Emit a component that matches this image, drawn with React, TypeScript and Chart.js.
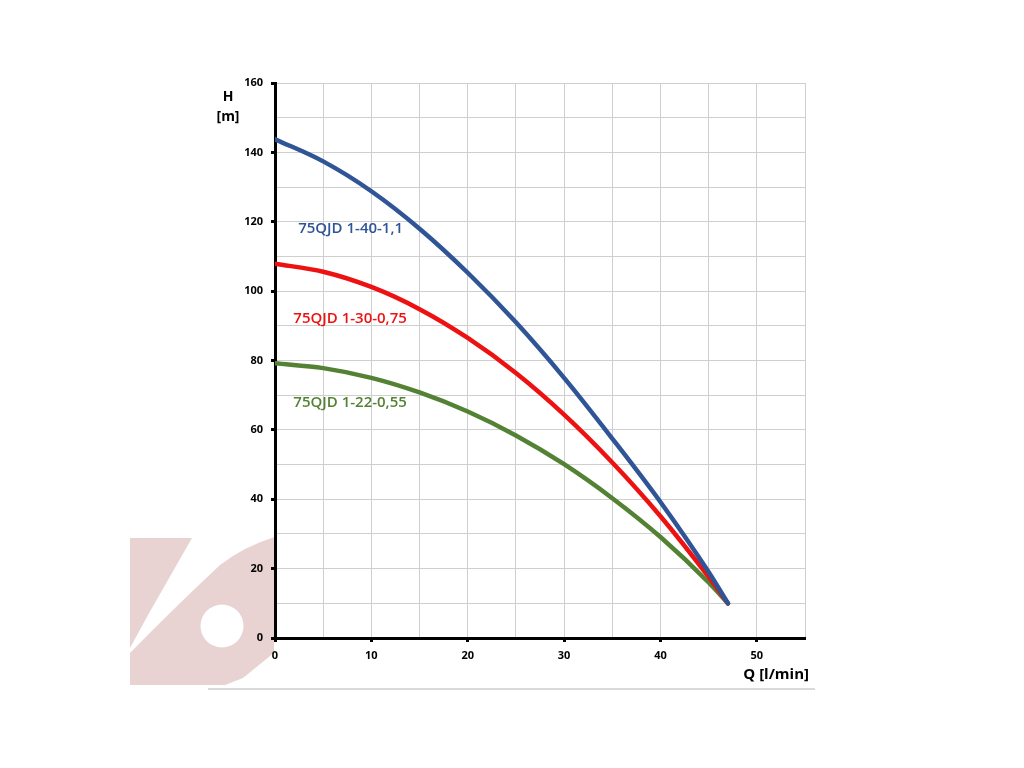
import React, { useEffect, useRef } from "react";
import { Chart, registerables } from "chart.js";

Chart.register(...registerables);

const flowQ = [0, 5, 10, 15, 20, 25, 30, 35, 40, 45, 47];
const headBlue = [143.8, 137.4, 128.8, 118.0, 105.3, 91.0, 75.0, 57.5, 39.2, 19.0, 10];
const headRed = [107.9, 105.6, 101.2, 94.8, 86.5, 76.4, 64.4, 50.6, 35.1, 17.6, 10];
const headGreen = [79.2, 77.8, 75.0, 70.8, 65.3, 58.4, 50.1, 40.3, 29.1, 16.0, 10];

const seriesNames = ["75QJD 1-40-1,1", "75QJD 1-30-0,75", "75QJD 1-22-0,55"];
const seriesColors = ["#2F5597", "#EE1111", "#548235"];
const labelAnchors = [
  { x: 2.4, y: 117.9 },
  { x: 1.9, y: 92 },
  { x: 1.9, y: 67.7 },
];

const xMax = 55;
const yMax = 160;

const FONT = "'Open Sans', 'Liberation Sans', sans-serif";

const decorPlugin = {
  id: "decor",
  beforeDraw(chart: any) {
    const ctx = chart.ctx;
    ctx.save();
    ctx.beginPath();
    ctx.rect(128, 536, 146, 152);
    ctx.clip();
    ctx.fillStyle = "#E8D2D2";
    ctx.beginPath();
    ctx.moveTo(130, 538);
    ctx.lineTo(192, 538);
    ctx.lineTo(148, 615);
    ctx.lineTo(130, 648);
    ctx.closePath();
    ctx.fill();
    ctx.beginPath();
    ctx.moveTo(220, 565);
    ctx.quadraticCurveTo(245, 546, 275, 537);
    ctx.lineTo(275, 652);
    ctx.lineTo(243, 678);
    ctx.lineTo(225, 685);
    ctx.lineTo(130, 685);
    ctx.lineTo(130, 653);
    ctx.quadraticCurveTo(170, 612, 220, 565);
    ctx.closePath();
    ctx.fill();
    ctx.fillStyle = "#ffffff";
    ctx.beginPath();
    ctx.arc(222, 626, 21.5, 0, Math.PI * 2);
    ctx.fill();
    ctx.restore();
  },
  afterDraw(chart: any) {
    const ctx = chart.ctx;
    const xs = chart.scales.x;
    const ys = chart.scales.y;
    ctx.save();
    ctx.font = `600 15px ${FONT}`;
    ctx.textBaseline = "middle";
    ctx.textAlign = "left";
    seriesNames.forEach((n, i) => {
      ctx.fillStyle = seriesColors[i];
      ctx.fillText(n, xs.getPixelForValue(labelAnchors[i].x), ys.getPixelForValue(labelAnchors[i].y));
    });
    ctx.fillStyle = "#000";
    ctx.font = `bold 14px ${FONT}`;
    ctx.textAlign = "center";
    ctx.fillText("H", 228, 97);
    ctx.fillText("[m]", 228, 117);
    ctx.textAlign = "right";
    ctx.font = `bold 15px ${FONT}`;
    ctx.fillText("Q [l/min]", 809, 675);
    ctx.strokeStyle = "#D9D9D9";
    ctx.lineWidth = 2;
    ctx.beginPath();
    ctx.moveTo(208, 689);
    ctx.lineTo(815, 689);
    ctx.stroke();
    ctx.restore();
  },
};

export default function App() {
  const ref = useRef<HTMLCanvasElement | null>(null);
  useEffect(() => {
    if (!ref.current) return;
    const mk = (vals: number[]) => flowQ.map((q, i) => ({ x: q, y: vals[i] }));
    const chart = new Chart(ref.current, {
      type: "line",
      data: {
        datasets: [
          { label: seriesNames[0], data: mk(headBlue), borderColor: seriesColors[0] },
          { label: seriesNames[1], data: mk(headRed), borderColor: seriesColors[1] },
          { label: seriesNames[2], data: mk(headGreen), borderColor: seriesColors[2] },
        ].map((d) => ({
          ...d,
          borderWidth: 4.5,
          pointRadius: 0,
          fill: false,
          cubicInterpolationMode: "monotone" as const,
          borderCapStyle: "round" as const,
        })),
      },
      options: {
        animation: false,
        responsive: false,
        layout: { padding: { left: 0, top: 83, right: 219, bottom: 0 } },
        plugins: { legend: { display: false }, tooltip: { enabled: false } },
        scales: {
          x: {
            type: "linear",
            min: 0,
            max: xMax,
            afterFit: (s: any) => {
              s.height = 130;
            },
            ticks: {
              stepSize: 5,
              padding: 7,
              color: "#000",
              font: { family: FONT, size: 11, weight: "bold" },
              callback: (v: any) => (Number(v) % 10 === 0 ? String(v) : ""),
            },
            grid: {
              color: "#CFCFCF",
              lineWidth: 1,
              tickLength: 4,
              tickColor: (c: any) => (c.tick && c.tick.value % 10 === 0 ? "#000" : "rgba(0,0,0,0)"),
              tickWidth: 3,
            },
            border: { color: "#000", width: 3 },
          },
          y: {
            type: "linear",
            min: 0,
            max: yMax,
            afterFit: (s: any) => {
              s.width = 275;
            },
            ticks: {
              stepSize: 10,
              padding: 8,
              color: "#000",
              font: { family: FONT, size: 11, weight: "bold" },
              callback: (v: any) => (Number(v) % 20 === 0 ? String(v) : ""),
            },
            grid: {
              color: "#CFCFCF",
              lineWidth: 1,
              tickLength: 4,
              tickColor: (c: any) => (c.tick && c.tick.value % 20 === 0 ? "#000" : "rgba(0,0,0,0)"),
              tickWidth: 3,
            },
            border: { color: "#000", width: 3 },
          },
        },
      },
      plugins: [decorPlugin],
    });
    return () => chart.destroy();
  }, []);
  return (
    <div style={{ position: "absolute", left: 0, top: 0, width: 1024, height: 768, background: "#fff" }}>
      <canvas ref={ref} width={1024} height={768} style={{ display: "block" }} />
    </div>
  );
}
